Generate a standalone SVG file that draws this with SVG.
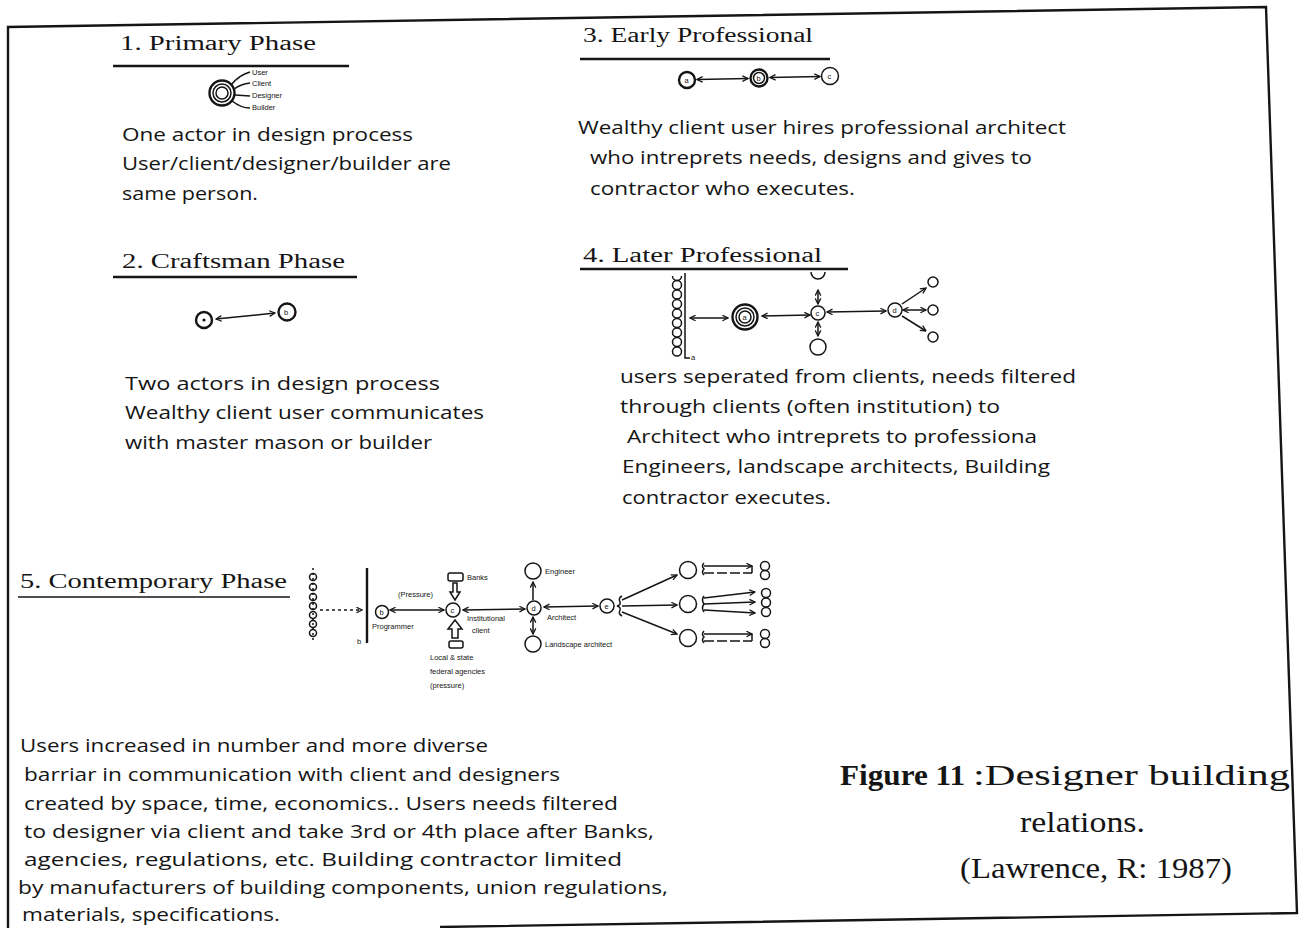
<svg xmlns="http://www.w3.org/2000/svg" width="1301" height="928" viewBox="0 0 1301 928">
<style>
.b{font-family:"Open Sans","Liberation Sans",sans-serif;font-size:19px;fill:#151515}
.h{font-family:"Liberation Serif","DejaVu Serif",serif;font-size:20px;fill:#151515}
.s{font-family:"Liberation Sans",Arial,sans-serif;font-size:7.5px;fill:#151515}
.cap{font-family:"Liberation Serif","DejaVu Serif",serif;font-size:30px;fill:#151515}
.ln{stroke:#151515;stroke-width:1.5;fill:none}
.tk{stroke:#151515;stroke-width:2.4;fill:none}
.ul{stroke:#151515;stroke-width:2.6}
</style>
<defs>
<marker id="ah" viewBox="0 0 10 10" refX="9" refY="5" markerWidth="7" markerHeight="7" markerUnits="userSpaceOnUse" orient="auto-start-reverse">
<path d="M1,1 L9,5 L1,9" fill="none" stroke="#151515" stroke-width="1.8"/>
</marker>
</defs>
<rect width="1301" height="928" fill="#ffffff"/>
<path d="M8,928 L8,27 L1266,7 L1297,913 L440,927" fill="none" stroke="#151515" stroke-width="2.4"/>

<g id="phase1">
<text class="h" x="120" y="50" textLength="196" lengthAdjust="spacingAndGlyphs">1. Primary Phase</text>
<line class="ul" x1="113" y1="66" x2="349" y2="66"/>
<circle class="tk" cx="222" cy="93" r="12.5"/>
<circle class="ln" cx="222" cy="93" r="9"/>
<circle class="ln" cx="222" cy="93" r="6"/>
<path class="ln" d="M231,85 Q239,75 250,72 M234,89 Q241,84 250,83 M235,95 L250,96 M232,101 Q241,108 250,108"/>
<text class="s" x="252" y="75">User</text>
<text class="s" x="252" y="86">Client</text>
<text class="s" x="252" y="98">Designer</text>
<text class="s" x="252" y="110">Builder</text>
<text class="b" x="122" y="141" textLength="291" lengthAdjust="spacingAndGlyphs">One actor in design process</text>
<text class="b" x="122" y="170" textLength="329" lengthAdjust="spacingAndGlyphs">User/client/designer/builder are</text>
<text class="b" x="122" y="200" textLength="136" lengthAdjust="spacingAndGlyphs">same person.</text>
</g>

<g id="phase2">
<text class="h" x="122" y="268" textLength="223" lengthAdjust="spacingAndGlyphs">2. Craftsman Phase</text>
<line class="ul" x1="113" y1="277" x2="357" y2="277"/>
<circle class="tk" cx="204" cy="320" r="8"/>
<circle cx="204" cy="320" r="1.6" fill="#151515"/>
<circle class="tk" cx="287" cy="312" r="8.5"/>
<text class="s" x="284" y="315">b</text>
<line class="ln" x1="216" y1="319" x2="275" y2="313" marker-start="url(#ah)" marker-end="url(#ah)"/>
<text class="b" x="125" y="390" textLength="315" lengthAdjust="spacingAndGlyphs">Two actors in design process</text>
<text class="b" x="125" y="419" textLength="359" lengthAdjust="spacingAndGlyphs">Wealthy client user communicates</text>
<text class="b" x="125" y="449" textLength="307" lengthAdjust="spacingAndGlyphs">with master mason or builder</text>
</g>

<g id="phase3">
<text class="h" x="583" y="42" textLength="230" lengthAdjust="spacingAndGlyphs">3. Early Professional</text>
<line class="ul" x1="580" y1="59" x2="830" y2="59"/>
<circle class="tk" cx="687" cy="80" r="8"/>
<text class="s" x="684.5" y="83">a</text>
<circle class="tk" cx="759" cy="78" r="8.5"/>
<circle class="ln" cx="759" cy="78" r="5.5"/>
<text class="s" x="756.5" y="81">b</text>
<circle class="ln" cx="830" cy="76" r="8.5"/>
<text class="s" x="827.5" y="79">c</text>
<line class="ln" x1="697" y1="79.5" x2="748" y2="78.5" marker-start="url(#ah)" marker-end="url(#ah)"/>
<line class="ln" x1="770" y1="77.5" x2="820" y2="76.5" marker-start="url(#ah)" marker-end="url(#ah)"/>
<text class="b" x="578" y="134" textLength="488" lengthAdjust="spacingAndGlyphs">Wealthy client user hires professional architect</text>
<text class="b" x="590" y="164" textLength="442" lengthAdjust="spacingAndGlyphs">who intreprets needs, designs and gives to</text>
<text class="b" x="590" y="195" textLength="265" lengthAdjust="spacingAndGlyphs">contractor who executes.</text>
</g>

<g id="phase4">
<text class="h" x="583" y="262" textLength="239" lengthAdjust="spacingAndGlyphs">4. Later Professional</text>
<line class="ul" x1="580" y1="269" x2="848" y2="269"/>
<g class="ln">
<path d="M672.5,276 A4.5,4.5 0 0 0 681.5,276"/>
<circle cx="677" cy="285" r="4.5"/>
<circle cx="677" cy="294.5" r="4.5"/>
<circle cx="677" cy="304" r="4.5"/>
<circle cx="677" cy="313.5" r="4.5"/>
<circle cx="677" cy="323" r="4.5"/>
<circle cx="677" cy="332.5" r="4.5"/>
<circle cx="677" cy="342" r="4.5"/>
<circle cx="677" cy="351.5" r="4.5"/>
</g>
<path class="ln" d="M685,273 L685,358 L690,358"/>
<text class="s" x="691" y="360">a</text>
<line class="ln" x1="690" y1="318" x2="728" y2="318" marker-start="url(#ah)" marker-end="url(#ah)"/>
<circle class="tk" cx="745" cy="317" r="12.5"/>
<circle class="ln" cx="745" cy="317" r="9"/>
<circle class="ln" cx="745" cy="317" r="6"/>
<text class="s" x="742.5" y="320">a</text>
<line class="ln" x1="762" y1="316" x2="810" y2="315" marker-start="url(#ah)" marker-end="url(#ah)"/>
<circle class="ln" cx="818" cy="313" r="7"/>
<text class="s" x="815.5" y="316">c</text>
<path class="ln" d="M811,272 A7,7 0 0 0 825,272"/>
<line class="ln" x1="818" y1="290" x2="818" y2="304" marker-start="url(#ah)" marker-end="url(#ah)"/>
<line class="ln" x1="818" y1="322" x2="818" y2="336" marker-start="url(#ah)" marker-end="url(#ah)"/>
<circle class="ln" cx="818" cy="347" r="8"/>
<line class="ln" x1="827" y1="312" x2="886" y2="311" marker-start="url(#ah)" marker-end="url(#ah)"/>
<circle class="ln" cx="895" cy="310" r="7"/>
<text class="s" x="892.5" y="313">d</text>
<line class="ln" x1="902" y1="304" x2="926" y2="288" marker-end="url(#ah)"/>
<line class="ln" x1="903" y1="310" x2="926" y2="310" marker-start="url(#ah)" marker-end="url(#ah)"/>
<line class="ln" x1="902" y1="316" x2="926" y2="331" marker-end="url(#ah)"/>
<circle class="ln" cx="933" cy="282" r="5"/>
<circle class="ln" cx="933" cy="310" r="5"/>
<circle class="ln" cx="933" cy="337" r="5"/>
<text class="b" x="620" y="383" textLength="456" lengthAdjust="spacingAndGlyphs">users seperated from clients, needs filtered</text>
<text class="b" x="620" y="413" textLength="380" lengthAdjust="spacingAndGlyphs">through clients (often institution) to</text>
<text class="b" x="627" y="443" textLength="410" lengthAdjust="spacingAndGlyphs">Architect who intreprets to professiona</text>
<text class="b" x="622" y="473" textLength="428" lengthAdjust="spacingAndGlyphs">Engineers, landscape architects, Building</text>
<text class="b" x="622" y="504" textLength="209" lengthAdjust="spacingAndGlyphs">contractor executes.</text>
</g>

<g id="phase5">
<text class="h" x="20" y="588" textLength="267" lengthAdjust="spacingAndGlyphs">5. Contemporary Phase</text>
<line class="ln" x1="18" y1="597" x2="290" y2="597"/>
<g class="ln">
<line x1="313" y1="568" x2="313" y2="640" stroke-dasharray="2 3"/>
<circle cx="313" cy="577" r="3.5"/>
<circle cx="313" cy="587" r="3.5"/>
<circle cx="313" cy="597" r="3.5"/>
<circle cx="313" cy="606" r="3.5"/>
<circle cx="313" cy="615" r="3.5"/>
<circle cx="313" cy="624" r="3.5"/>
<circle cx="313" cy="633" r="3.5"/>
</g>
<line class="ln" x1="320" y1="610" x2="362" y2="610" stroke-dasharray="3 3" marker-end="url(#ah)"/>
<line class="tk" x1="367" y1="568" x2="367" y2="643"/>
<text class="s" x="357" y="644">b</text>
<circle class="ln" cx="382" cy="612" r="6.5"/>
<text class="s" x="379.5" y="615">b</text>
<text class="s" x="372" y="629">Programmer</text>
<text class="s" x="398" y="597">(Pressure)</text>
<line class="ln" x1="390" y1="610" x2="444" y2="610" marker-start="url(#ah)" marker-end="url(#ah)"/>
<circle class="ln" cx="453" cy="610" r="7"/>
<text class="s" x="450.5" y="613">c</text>
<rect class="ln" x="448" y="573" width="15" height="8" rx="2"/>
<text class="s" x="467" y="580">Banks</text>
<path class="ln" d="M453,583 L457,583 L457,592 L460,592 L455,600 L450,592 L453,592 Z"/>
<path class="ln" d="M452,638 L458,638 L458,629 L462,629 L455,620 L448,629 L452,629 Z"/>
<rect class="ln" x="449" y="641" width="14" height="7" rx="2"/>
<text class="s" x="467" y="621">Institutional</text>
<text class="s" x="472" y="633">client</text>
<text class="s" x="430" y="660">Local &amp; state</text>
<text class="s" x="430" y="674">federal agencies</text>
<text class="s" x="430" y="688">(pressure)</text>
<line class="ln" x1="463" y1="610" x2="525" y2="609" marker-start="url(#ah)" marker-end="url(#ah)"/>
<circle class="ln" cx="534" cy="608" r="7"/>
<text class="s" x="531.5" y="611">d</text>
<circle class="ln" cx="533" cy="571" r="8"/>
<text class="s" x="545" y="574">Engineer</text>
<line class="ln" x1="533" y1="600" x2="533" y2="582" marker-end="url(#ah)"/>
<circle class="ln" cx="533" cy="644" r="8"/>
<text class="s" x="545" y="647">Landscape architect</text>
<line class="ln" x1="533" y1="617" x2="533" y2="634" marker-start="url(#ah)" marker-end="url(#ah)"/>
<text class="s" x="547" y="620">Architect</text>
<line class="ln" x1="544" y1="607" x2="598" y2="606" marker-start="url(#ah)" marker-end="url(#ah)"/>
<circle class="ln" cx="607" cy="606" r="7"/>
<text class="s" x="604.5" y="609">e</text>
<path class="ln" d="M622,596 Q618,598 620,602 Q621,605 617,606 Q621,607 620,610 Q618,614 622,616"/>
<line class="ln" x1="622" y1="600" x2="677" y2="575" marker-end="url(#ah)"/>
<line class="ln" x1="622" y1="606" x2="677" y2="605" marker-end="url(#ah)"/>
<line class="ln" x1="622" y1="612" x2="677" y2="634" marker-end="url(#ah)"/>
<circle class="ln" cx="688" cy="570" r="8.5"/>
<circle class="ln" cx="688" cy="604" r="8.5"/>
<circle class="ln" cx="688" cy="638" r="8.5"/>
<path class="ln" d="M704,563 Q701,566 704,569 Q701,572 704,575"/>
<line class="ln" x1="704" y1="566" x2="752" y2="566" marker-end="url(#ah)"/>
<line class="ln" x1="704" y1="573" x2="752" y2="573" stroke-dasharray="10 3"/>
<line class="ln" x1="752" y1="566" x2="752" y2="573"/>
<circle class="ln" cx="765" cy="566" r="4.5"/>
<circle class="ln" cx="765" cy="575" r="4.5"/>
<path class="ln" d="M704,596 Q701,600 704,604 Q701,608 704,612"/>
<line class="ln" x1="704" y1="598" x2="755" y2="592" marker-end="url(#ah)"/>
<line class="ln" x1="704" y1="604" x2="755" y2="602" marker-end="url(#ah)"/>
<line class="ln" x1="704" y1="610" x2="755" y2="613" marker-end="url(#ah)"/>
<circle class="ln" cx="766" cy="593" r="4.5"/>
<circle class="ln" cx="766" cy="602.5" r="4.5"/>
<circle class="ln" cx="766" cy="612" r="4.5"/>
<path class="ln" d="M704,631 Q701,634 704,637 Q701,640 704,643"/>
<line class="ln" x1="704" y1="634" x2="752" y2="634" marker-end="url(#ah)"/>
<line class="ln" x1="704" y1="641" x2="752" y2="641" stroke-dasharray="10 3"/>
<line class="ln" x1="752" y1="634" x2="752" y2="641"/>
<circle class="ln" cx="765" cy="634" r="4.5"/>
<circle class="ln" cx="765" cy="643" r="4.5"/>
<text class="b" x="20" y="752" textLength="468" lengthAdjust="spacingAndGlyphs">Users increased in number and more diverse</text>
<text class="b" x="24" y="781" textLength="536" lengthAdjust="spacingAndGlyphs">barriar in communication with client and designers</text>
<text class="b" x="24" y="810" textLength="594" lengthAdjust="spacingAndGlyphs">created by space, time, economics.. Users needs filtered</text>
<text class="b" x="24" y="838" textLength="630" lengthAdjust="spacingAndGlyphs">to designer via client and take 3rd or 4th place after Banks,</text>
<text class="b" x="24" y="866" textLength="598" lengthAdjust="spacingAndGlyphs">agencies, regulations, etc. Building contractor limited</text>
<text class="b" x="18" y="894" textLength="650" lengthAdjust="spacingAndGlyphs">by manufacturers of building components, union regulations,</text>
<text class="b" x="22" y="921" textLength="258" lengthAdjust="spacingAndGlyphs">materials, specifications.</text>
</g>

<g id="caption">
<text class="cap" x="840" y="785" font-weight="bold" textLength="125" lengthAdjust="spacingAndGlyphs">Figure 11</text>
<text class="cap" x="973" y="785" textLength="317" lengthAdjust="spacingAndGlyphs">:Designer building</text>
<text class="cap" x="1020" y="832" textLength="125" lengthAdjust="spacingAndGlyphs">relations.</text>
<text class="cap" x="960" y="878" textLength="272" lengthAdjust="spacingAndGlyphs">(Lawrence, R: 1987)</text>
</g>
</svg>
